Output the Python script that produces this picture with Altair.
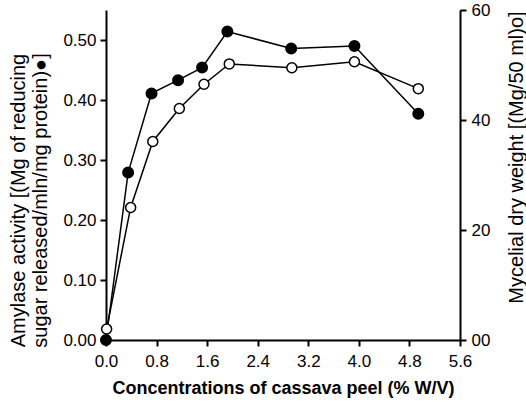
import altair as alt
import pandas as pd

# Data
conc_amylase = [0.0, 0.35, 0.72, 1.14, 1.52, 1.92, 2.93, 3.93, 4.94]
amylase = [0.000, 0.279, 0.411, 0.433, 0.454, 0.514, 0.486, 0.490, 0.377]

conc_mycelial = [0.01, 0.39, 0.74, 1.16, 1.55, 1.95, 2.94, 3.93, 4.94]
mycelial = [2.0, 24.1, 36.1, 42.1, 46.5, 50.2, 49.5, 50.6, 45.7]

x_ticks = [0.0, 0.8, 1.6, 2.4, 3.2, 4.0, 4.8, 5.6]
left_ticks = [0.0, 0.1, 0.2, 0.3, 0.4, 0.5]
right_ticks = [0, 20, 40, 60]

df_a = pd.DataFrame({"conc": conc_amylase, "amylase": amylase})
df_m = pd.DataFrame({"conc": conc_mycelial, "mycelial": mycelial})

FONT = "Liberation Sans"

x_enc = alt.X(
    "conc:Q",
    scale=alt.Scale(domain=[0, 5.6], nice=False, zero=False),
    axis=alt.Axis(
        values=x_ticks,
        format=".1f",
        title="Concentrations of cassava peel (% W/V)",
        titleFontWeight="bold",
        titleFontSize=18,
        titleFont=FONT,
        titleColor="black",
        titleBaseline="alphabetic",
        titleY=53,
        labelFontSize=17,
        labelPadding=7,
        labelFlush=False,
        grid=False,
    ),
)

left = alt.Chart(df_a)
left_y = alt.Y(
    "amylase:Q",
    scale=alt.Scale(domain=[0, 0.55], nice=False),
    axis=alt.Axis(
        values=left_ticks,
        format=".2f",
        title=["Amylase activity [(Mg of reducing", "sugar released/mln/mg protein)●]"],
        titleFontWeight="normal",
        titleFontSize=20,
        titleFont=FONT,
        titleColor="black",
        titleLineHeight=22,
        titleAngle=270,
        titleAlign="center",
        titleBaseline="middle",
        titleX=-88,
        titleY=190,
        labelFontSize=17,
        labelPadding=4,
        labelFlush=False,
        grid=False,
    ),
)
left_line = left.mark_line(color="black", strokeWidth=1.5).encode(x=x_enc, y=left_y)
left_pts = left.mark_point(
    shape="circle", filled=True, fill="black", stroke="black", size=100, opacity=1
).encode(x=x_enc, y=left_y)

right = alt.Chart(df_m)
right_y = alt.Y(
    "mycelial:Q",
    scale=alt.Scale(domain=[0, 60], nice=False),
    axis=alt.Axis(
        orient="right",
        values=right_ticks,
        labelExpr="datum.value == 0 ? '00' : datum.label",
        title="Mycelial dry weight [(Mg/50 ml)o]",
        titleFontWeight="normal",
        titleFontSize=20,
        titleFont=FONT,
        titleColor="black",
        titleAngle=270,
        titleAlign="center",
        titleBaseline="middle",
        titleX=56,
        titleY=147,
        labelFontSize=17,
        labelPadding=5,
        labelFlush=False,
        grid=False,
    ),
)
right_line = right.mark_line(color="black", strokeWidth=1.5).encode(x=x_enc, y=right_y)
right_pts = right.mark_point(
    shape="circle", filled=True, fill="white", stroke="black", strokeWidth=1.5, size=100, opacity=1
).encode(x=x_enc, y=right_y)

chart = (
    alt.layer(alt.layer(left_line, left_pts), alt.layer(right_line, right_pts))
    .resolve_scale(y="independent")
    .properties(
        width=354,
        height=330,
        padding={"left": 106, "top": 10, "right": 66, "bottom": 62},
        autosize=alt.AutoSizeParams(type="none"),
        background="white",
    )
    .configure_view(stroke=None)
    .configure_axis(
        domainColor="black",
        domainWidth=2,
        tickColor="black",
        tickWidth=2,
        tickSize=6,
        labelColor="black",
        labelFont=FONT,
        titleFont=FONT,
    )
)

chart.save("out.html", embed_options={"renderer": "svg", "actions": False})
